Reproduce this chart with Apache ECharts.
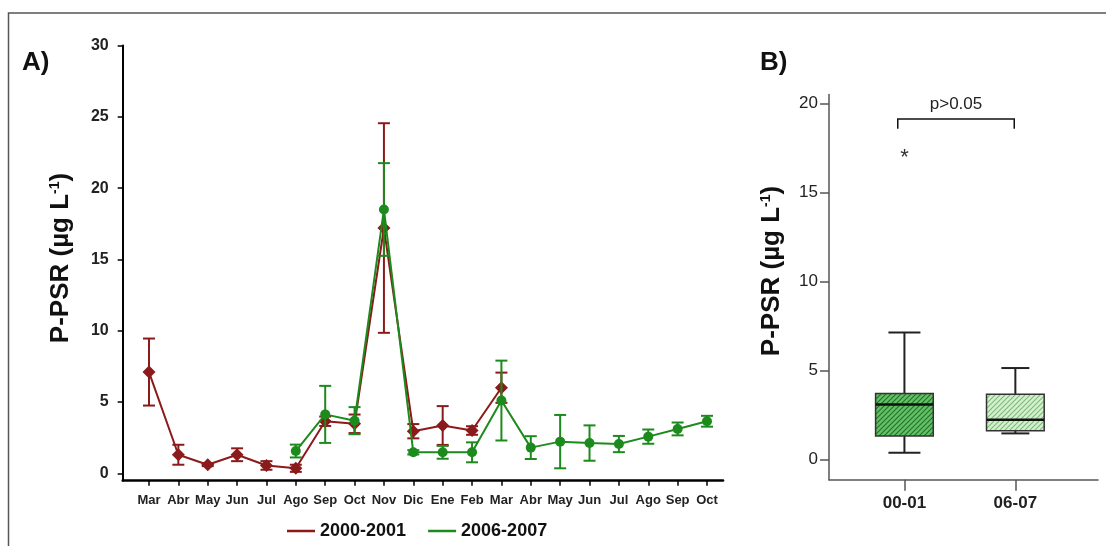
<!DOCTYPE html>
<html>
<head>
<meta charset="utf-8">
<script src="https://cdn.jsdelivr.net/npm/echarts@6/dist/echarts.min.js"></script>
<style>
html,body{margin:0;padding:0;background:#fff;}
#chart{width:1106px;height:546px;}
</style>
</head>
<body>
<div id="chart"></div>
<script>
// ---------- Data ----------
const monthLabels = ['Mar','Abr','May','Jun','Jul','Ago','Sep','Oct','Nov','Dic','Ene','Feb','Mar','Abr','May','Jun','Jul','Ago','Sep','Oct'];
const yTicksA = [0, 5, 10, 15, 20, 25, 30];
const series2000Name = '2000-2001';
const series2000Start = 0;
const series2000Mean = [7.1, 1.3, 0.6, 1.3, 0.55, 0.35, 3.65, 3.47, 17.2, 2.95, 3.35, 3.0, 6.0];
const series2000Err  = [2.35, 0.7, 0.1, 0.45, 0.3, 0.25, 0.33, 0.65, 7.35, 0.5, 1.36, 0.3, 1.06];
const series2006Name = '2006-2007';
const series2006Start = 5;
const series2006Mean = [1.56, 4.13, 3.69, 18.5, 1.47, 1.47, 1.47, 5.1, 1.8, 2.22, 2.12, 2.05, 2.57, 3.11, 3.65];
const series2006Err  = [0.45, 2.0, 0.95, 3.25, 0.15, 0.45, 0.7, 2.8, 0.8, 1.87, 1.24, 0.57, 0.5, 0.45, 0.38];

const boxCategories = ['00-01', '06-07'];
// [min whisker, Q1, median, Q3, max whisker]
const boxStats = [
  [0.39, 1.33, 3.09, 3.71, 7.14],
  [1.47, 1.62, 2.23, 3.67, 5.14]
];
const boxOutliers = [[0, 17.2]];   // [category index, value]
const yTicksB = [0, 5, 10, 15, 20];
const pValueText = 'p>0.05';

// ---------- Styles ----------
const RED = '#8b1a1a';
const GREEN = '#1d8a1d';
const FONT = 'Liberation Sans, Arial, sans-serif';

function hatch(base, lineColor) {
  const c = document.createElement('canvas');
  const s = 5;
  c.width = s; c.height = s;
  const g = c.getContext('2d');
  g.fillStyle = base; g.fillRect(0, 0, s, s);
  g.strokeStyle = lineColor; g.lineWidth = 1.1;
  g.beginPath();
  g.moveTo(-1, s + 1); g.lineTo(s + 1, -1);
  g.moveTo(-1, 1); g.lineTo(1, -1);
  g.moveTo(s - 1, s + 1); g.lineTo(s + 1, s - 1);
  g.stroke();
  return { image: c, repeat: 'repeat' };
}
const boxFills = [hatch('#5fc264', '#2a6b2c'), hatch('#d6f0cf', '#78bb78')];

function buildLine(start, mean) {
  return mean.map((v, i) => [start + i, v]);
}
function buildErr(start, mean, err) {
  return mean.map((v, i) => [start + i, v - err[i], v + err[i]]);
}
function errRender(color) {
  return function (params, api) {
    const x = api.value(0);
    const pLo = api.coord([x, api.value(1)]);
    const pHi = api.coord([x, api.value(2)]);
    const hw = 6;
    const st = { stroke: color, lineWidth: 2 };
    return { type: 'group', children: [
      { type: 'line', shape: { x1: pHi[0], y1: pHi[1], x2: pLo[0], y2: pLo[1] }, style: st },
      { type: 'line', shape: { x1: pHi[0] - hw, y1: pHi[1], x2: pHi[0] + hw, y2: pHi[1] }, style: st },
      { type: 'line', shape: { x1: pLo[0] - hw, y1: pLo[1], x2: pLo[0] + hw, y2: pLo[1] }, style: st }
    ]};
  };
}

const chart = echarts.init(document.getElementById('chart'), null, { renderer: 'canvas' });

const titleRich = {
  a: { fontSize: 26, fontWeight: 'bold', fontFamily: FONT, fill: '#111', color: '#111' },
  s: { fontSize: 14, fontWeight: 'bold', fontFamily: FONT, fill: '#111', color: '#111', verticalAlign: 'top' }
};

const option = {
  backgroundColor: '#fff',
  animation: false,
  textStyle: { fontFamily: FONT },
  grid: [
    { left: 122.7, top: 45.5, width: 600.3, height: 435.2, containLabel: false, outerBoundsMode: 'none' },
    { left: 829, top: 94.5, width: 269, height: 385.2, containLabel: false, outerBoundsMode: 'none' }
  ],
  xAxis: [
    {
      type: 'value', gridIndex: 0, min: -0.895, max: 19.545,
      axisLine: { show: true, onZero: false, lineStyle: { color: '#000', width: 2.5 } },
      axisTick: { show: true, length: 5, customValues: monthLabels.map((m, i) => i), lineStyle: { color: '#000', width: 1.5 } },
      axisLabel: { customValues: monthLabels.map((m, i) => i), formatter: v => monthLabels[Math.round(v)], margin: 13,
        fontSize: 13, fontWeight: 'bold', color: '#222', fontFamily: FONT },
      splitLine: { show: false }
    },
    {
      type: 'value', gridIndex: 1, min: 0.32, max: 2.745,
      axisLine: { show: true, onZero: false, lineStyle: { color: '#555', width: 1.5 } },
      axisTick: { show: true, length: 11, customValues: boxCategories.map((c, i) => i + 1), lineStyle: { color: '#555', width: 1.5 } },
      axisLabel: { customValues: boxCategories.map((c, i) => i + 1), formatter: v => boxCategories[Math.round(v) - 1], margin: 15,
        fontSize: 17, fontWeight: 'bold', color: '#222', fontFamily: FONT },
      splitLine: { show: false }
    }
  ],
  yAxis: [
    {
      type: 'value', gridIndex: 0, min: -0.52, max: 30,
      axisLine: { show: true, onZero: false, lineStyle: { color: '#000', width: 2 } },
      axisTick: { show: true, length: 5, customValues: yTicksA, lineStyle: { color: '#000', width: 1.5 } },
      axisLabel: { customValues: yTicksA, margin: 14, fontSize: 16, fontWeight: 'bold', color: '#222', fontFamily: FONT },
      splitLine: { show: false }
    },
    {
      type: 'value', gridIndex: 1, min: -1.13, max: 20.5,
      axisLine: { show: true, onZero: false, lineStyle: { color: '#555', width: 1.5 } },
      axisTick: { show: true, length: 9, customValues: yTicksB, lineStyle: { color: '#555', width: 1.5 } },
      axisLabel: { customValues: yTicksB, margin: 11, fontSize: 17, color: '#222', fontFamily: FONT },
      splitLine: { show: false }
    }
  ],
  legend: {
    left: 282, top: 517, itemWidth: 28, itemHeight: 2.5, icon: 'rect', itemGap: 22,
    textStyle: { fontSize: 18, fontWeight: 'bold', color: '#111', fontFamily: FONT },
    data: [series2000Name, series2006Name]
  },
  series: [
    {
      type: 'custom', name: 'err2000', xAxisIndex: 0, yAxisIndex: 0,
      data: buildErr(series2000Start, series2000Mean, series2000Err),
      encode: { x: 0, y: [1, 2] }, renderItem: errRender(RED), z: 2
    },
    {
      type: 'line', name: series2000Name, xAxisIndex: 0, yAxisIndex: 0,
      data: buildLine(series2000Start, series2000Mean),
      symbol: 'diamond', symbolSize: 13, color: RED,
      lineStyle: { color: RED, width: 2 }, itemStyle: { color: RED }, z: 3
    },
    {
      type: 'custom', name: 'err2006', xAxisIndex: 0, yAxisIndex: 0,
      data: buildErr(series2006Start, series2006Mean, series2006Err),
      encode: { x: 0, y: [1, 2] }, renderItem: errRender(GREEN), z: 4
    },
    {
      type: 'line', name: series2006Name, xAxisIndex: 0, yAxisIndex: 0,
      data: buildLine(series2006Start, series2006Mean),
      symbol: 'circle', symbolSize: 10, color: GREEN,
      lineStyle: { color: GREEN, width: 2 }, itemStyle: { color: GREEN }, z: 5
    },
    {
      type: 'custom', name: 'boxes', xAxisIndex: 1, yAxisIndex: 1,
      data: boxStats.map((s, i) => [i + 1].concat(s)),
      encode: { x: 0, y: [1, 2, 3, 4, 5] },
      renderItem: function (params, api) {
        const x = api.value(0);
        const idx = params.dataIndex;
        const pMin = api.coord([x, api.value(1)]);
        const pQ1 = api.coord([x, api.value(2)]);
        const pMed = api.coord([x, api.value(3)]);
        const pQ3 = api.coord([x, api.value(4)]);
        const pMax = api.coord([x, api.value(5)]);
        const bw = api.size([0.52, 0])[0];
        const cw = idx === 0 ? 32 : 28;
        const st = { stroke: '#222', lineWidth: 2 };
        return { type: 'group', children: [
          { type: 'line', shape: { x1: pMax[0], y1: pMax[1], x2: pQ3[0], y2: pQ3[1] }, style: st },
          { type: 'line', shape: { x1: pMin[0], y1: pMin[1], x2: pQ1[0], y2: pQ1[1] }, style: st },
          { type: 'line', shape: { x1: pMax[0] - cw / 2, y1: pMax[1], x2: pMax[0] + cw / 2, y2: pMax[1] }, style: st },
          { type: 'line', shape: { x1: pMin[0] - cw / 2, y1: pMin[1], x2: pMin[0] + cw / 2, y2: pMin[1] }, style: st },
          { type: 'rect', shape: { x: pQ3[0] - bw / 2, y: pQ3[1], width: bw, height: pQ1[1] - pQ3[1] },
            style: { fill: boxFills[idx], stroke: '#333', lineWidth: 1.5 } },
          { type: 'line', shape: { x1: pMed[0] - bw / 2, y1: pMed[1], x2: pMed[0] + bw / 2, y2: pMed[1] }, style: { stroke: '#111', lineWidth: 2.5 } }
        ]};
      }
    },
    {
      type: 'custom', name: 'outliers', xAxisIndex: 1, yAxisIndex: 1,
      data: boxOutliers.map(o => [o[0] + 1, o[1]]),
      encode: { x: 0, y: 1 },
      renderItem: function (params, api) {
        const p = api.coord([api.value(0), api.value(1)]);
        return { type: 'text', x: p[0], y: p[1] + 5,
          style: { text: '*', fontSize: 22, fontFamily: FONT, fill: '#333', align: 'center', verticalAlign: 'middle' } };
      }
    },
    {
      type: 'custom', name: 'bracket', xAxisIndex: 1, yAxisIndex: 1,
      data: [[0.94, 1.99, 19.12, 18.58]],
      encode: { x: [0, 1], y: [2, 3] },
      renderItem: function (params, api) {
        const pL = api.coord([api.value(0), api.value(2)]);
        const pR = api.coord([api.value(1), api.value(2)]);
        const pLd = api.coord([api.value(0), api.value(3)]);
        const st = { stroke: '#111', lineWidth: 1.5 };
        return { type: 'group', children: [
          { type: 'polyline', shape: { points: [[pL[0], pLd[1]], pL, pR, [pR[0], pLd[1]]] }, style: Object.assign({ fill: null }, st) },
          { type: 'text', x: (pL[0] + pR[0]) / 2, y: pL[1] - 15,
            style: { text: pValueText, fontSize: 17, fontFamily: FONT, fill: '#222', align: 'center', verticalAlign: 'middle' } }
        ]};
      }
    }
  ],
  graphic: [
    { type: 'rect', shape: { x: 8.5, y: 13, width: 1200, height: 700 }, style: { fill: null, stroke: '#555', lineWidth: 1.5 }, silent: true },
    { type: 'text', x: 22, y: 63, style: { text: 'A)', fontSize: 26, fontWeight: 'bold', fontFamily: FONT, fill: '#111', verticalAlign: 'middle' } },
    { type: 'text', x: 760, y: 63, style: { text: 'B)', fontSize: 26, fontWeight: 'bold', fontFamily: FONT, fill: '#111', verticalAlign: 'middle' } },
    { type: 'text', x: 61, y: 258, rotation: Math.PI / 2,
      style: { text: '{a|P-PSR (µg L}{s|-1}{a|)}', rich: titleRich, align: 'center', verticalAlign: 'middle' } },
    { type: 'text', x: 772, y: 271, rotation: Math.PI / 2,
      style: { text: '{a|P-PSR (µg L}{s|-1}{a|)}', rich: titleRich, align: 'center', verticalAlign: 'middle' } }
  ]
};
chart.setOption(option);
</script>
</body>
</html>
